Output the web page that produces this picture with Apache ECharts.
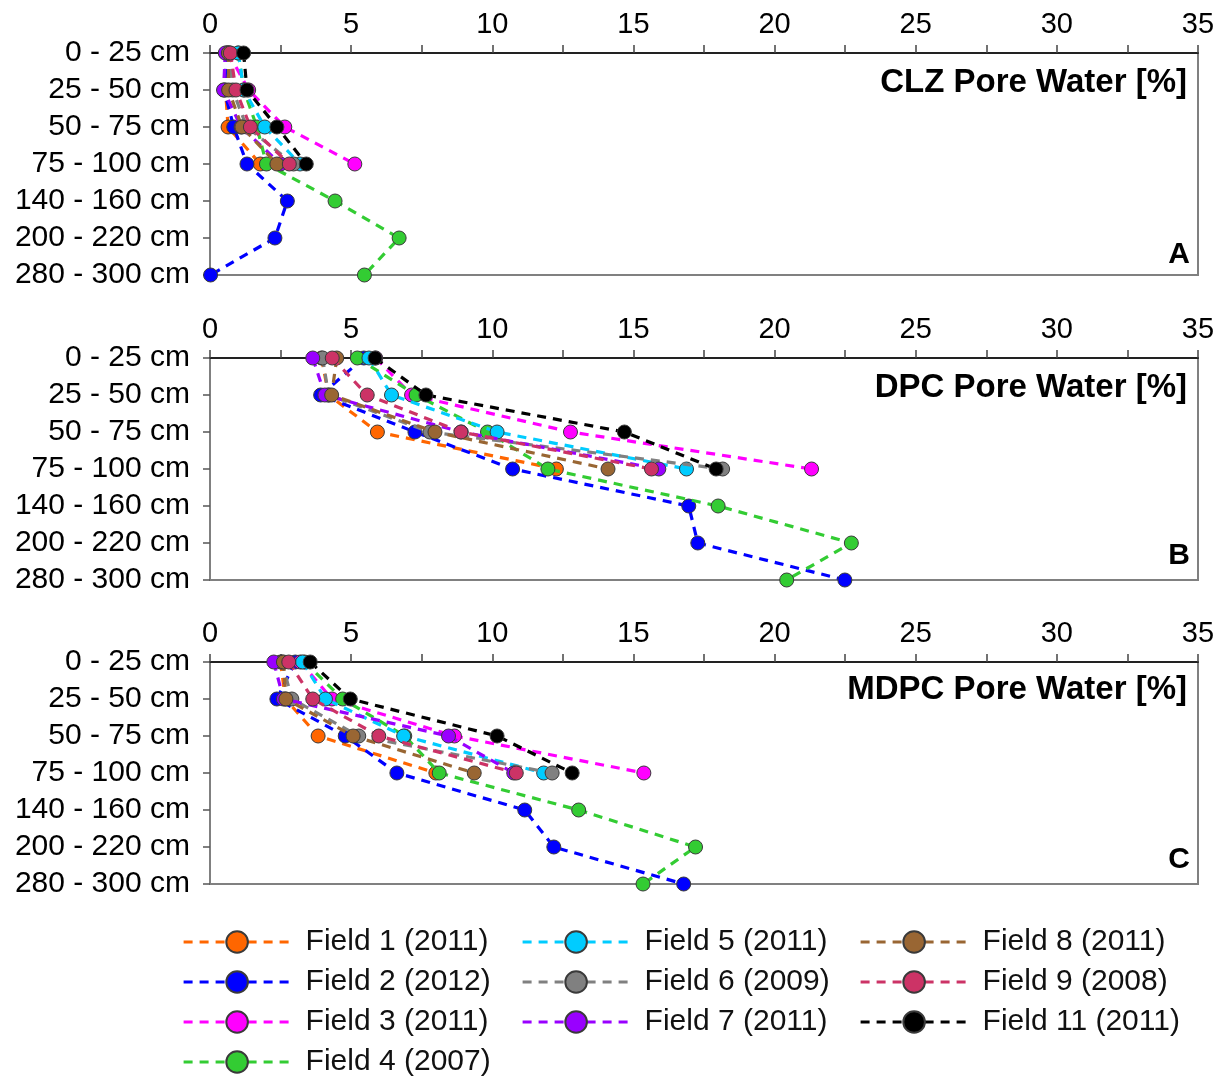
<!DOCTYPE html>
<html>
<head>
<meta charset="utf-8">
<script src="https://cdn.jsdelivr.net/npm/echarts@6/dist/echarts.min.js"></script>
<style>
html,body{margin:0;padding:0;background:#fff;}
#chart{width:1227px;height:1079px;}
</style>
</head>
<body>
<div id="chart"></div>
<script>
// ---- data ----
const depths = ['0 - 25 cm','25 - 50 cm','50 - 75 cm','75 - 100 cm','140 - 160 cm','200 - 220 cm','280 - 300 cm'];
const fields = ['Field 1 (2011)','Field 2 (2012)','Field 3 (2011)','Field 4 (2007)','Field 5 (2011)','Field 6 (2009)','Field 7 (2011)','Field 8 (2011)','Field 9 (2008)','Field 11 (2011)'];
const colors = ['#FF6600','#0000FF','#FF00FF','#33CC33','#00CCFF','#808080','#9900FF','#996633','#CC3366','#000000'];
const panelTitles = ['CLZ Pore Water [%]','DPC Pore Water [%]','MDPC Pore Water [%]'];
const panelLetters = ['A','B','C'];
const xTicks = [0,5,10,15,20,25,30,35];

// CLZ (panel A)
const clzF1  = [0.60, 0.55, 0.64, 1.78];
const clzF2  = [0.60, 0.50, 0.84, 1.31, 2.74, 2.30, 0.02];
const clzF3  = [0.65, 1.37, 2.65, 5.13];
const clzF4  = [1.00, 1.20, 1.66, 2.00, 4.43, 6.70, 5.47];
const clzF5  = [1.00, 1.20, 1.94, 3.19];
const clzF6  = [0.70, 0.80, 1.30, 2.96];
const clzF7  = [0.54, 0.48, 1.10, 2.50];
const clzF8  = [0.65, 0.66, 1.13, 2.37];
const clzF9  = [0.72, 0.92, 1.43, 2.81];
const clzF11 = [1.19, 1.31, 2.37, 3.41];

// DPC (panel B)
const dpcF1  = [3.95, 4.20, 5.93, 12.27];
const dpcF2  = [5.45, 3.92, 7.26, 10.72, 16.96, 17.28, 22.49];
const dpcF3  = [5.87, 7.14, 12.77, 21.31];
const dpcF4  = [5.22, 7.30, 9.83, 11.97, 18.00, 22.72, 20.43];
const dpcF5  = [5.63, 6.43, 10.17, 16.88];
const dpcF6  = [3.99, 4.20, 7.79, 18.16];
const dpcF7  = [3.64, 4.07, 8.90, 15.90];
const dpcF8  = [4.49, 4.31, 7.97, 14.10];
const dpcF9  = [4.33, 5.57, 8.89, 15.64];
const dpcF11 = [5.85, 7.65, 14.68, 17.93];

// MDPC (panel C)
const mdpcF1  = [2.50, 2.67, 3.83, 8.00];
const mdpcF2  = [3.02, 2.37, 4.79, 6.62, 11.15, 12.18, 16.78];
const mdpcF3  = [3.20, 4.32, 8.66, 15.37];
const mdpcF4  = [3.35, 4.70, 6.90, 8.12, 13.06, 17.20, 15.34];
const mdpcF5  = [3.28, 4.09, 6.86, 11.82];
const mdpcF6  = [2.55, 2.90, 5.27, 12.12];
const mdpcF7  = [2.26, 2.60, 8.45, 10.76];
const mdpcF8  = [2.60, 2.69, 5.07, 9.36];
const mdpcF9  = [2.79, 3.64, 5.98, 10.85];
const mdpcF11 = [3.55, 4.97, 10.17, 12.83];

const panelData = [
  [clzF1, clzF2, clzF3, clzF4, clzF5, clzF6, clzF7, clzF8, clzF9, clzF11],
  [dpcF1, dpcF2, dpcF3, dpcF4, dpcF5, dpcF6, dpcF7, dpcF8, dpcF9, dpcF11],
  [mdpcF1, mdpcF2, mdpcF3, mdpcF4, mdpcF5, mdpcF6, mdpcF7, mdpcF8, mdpcF9, mdpcF11]
];

// ---- layout ----
const FONT = 'Liberation Sans, Arial, sans-serif';
const gridTops = [53, 358, 662];
const titleTops = [66, 371, 673];
const letterTops = [240, 541, 845];

const grids = [], xAxes = [], yAxes = [], series = [], titles = [];
gridTops.forEach((t, i) => {
  grids.push({left: 210, width: 988, top: t, height: 222, show: true, borderColor: '#808080', borderWidth: 2, backgroundColor: 'transparent'});
  xAxes.push({
    gridIndex: i, type: 'value', position: 'top', min: 0, max: 35, interval: 2.5,
    axisLine: {show: true, lineStyle: {color: '#222', width: 2}},
    axisTick: {show: true, length: 8, lineStyle: {color: '#444', width: 1.5}},
    axisLabel: {fontSize: 29, color: '#000', fontFamily: FONT, margin: 14,
      formatter: v => xTicks.indexOf(v) >= 0 ? String(v) : ''},
    splitLine: {show: false}
  });
  yAxes.push({
    gridIndex: i, type: 'category', data: depths, inverse: true, boundaryGap: false,
    axisLine: {show: true, lineStyle: {color: '#808080', width: 2}},
    axisTick: {show: true, length: 7, alignWithLabel: true, lineStyle: {color: '#555', width: 1.5}},
    axisLabel: {fontSize: 30, color: '#000', fontFamily: FONT, margin: 20, interval: 0},
    splitLine: {show: false}
  });
  titles.push({text: panelTitles[i], right: 40, top: titleTops[i], padding: 0,
    textStyle: {fontSize: 33, fontWeight: 'bold', color: '#000', fontFamily: FONT}});
  titles.push({text: panelLetters[i], right: 37, top: letterTops[i], padding: 0,
    textStyle: {fontSize: 30, fontWeight: 'bold', color: '#000', fontFamily: FONT}});
  fields.forEach((f, k) => {
    series.push({
      name: f, type: 'line', xAxisIndex: i, yAxisIndex: i,
      data: panelData[i][k],
      symbol: 'circle', symbolSize: 14,
      lineStyle: {color: colors[k], width: 3.2, type: [9, 7]},
      itemStyle: {color: colors[k], borderColor: '#3a3a3a', borderWidth: 1},
      emphasis: {disabled: true},
      animation: false, z: 2 + k
    });
  });
});

const legendBase = {
  orient: 'vertical', top: 927, height: 155, padding: 0,
  itemWidth: 107, itemHeight: 27, itemGap: 10,
  selectedMode: false,
  lineStyle: {width: 3.2, type: [9, 7]},
  textStyle: {fontSize: 30, color: '#111', fontFamily: FONT, lineHeight: 30, padding: [0, 0, 0, 10]}
};
const legends = [
  Object.assign({}, legendBase, {left: 182, data: fields.slice(0, 4)}),
  Object.assign({}, legendBase, {left: 521, data: fields.slice(4, 7)}),
  Object.assign({}, legendBase, {left: 859, data: fields.slice(7, 10)})
];

const chart = echarts.init(document.getElementById('chart'), null, {renderer: 'canvas'});
chart.setOption({
  backgroundColor: '#fff',
  animation: false,
  title: titles,
  legend: legends,
  grid: grids,
  xAxis: xAxes,
  yAxis: yAxes,
  series: series
});
</script>
</body>
</html>
